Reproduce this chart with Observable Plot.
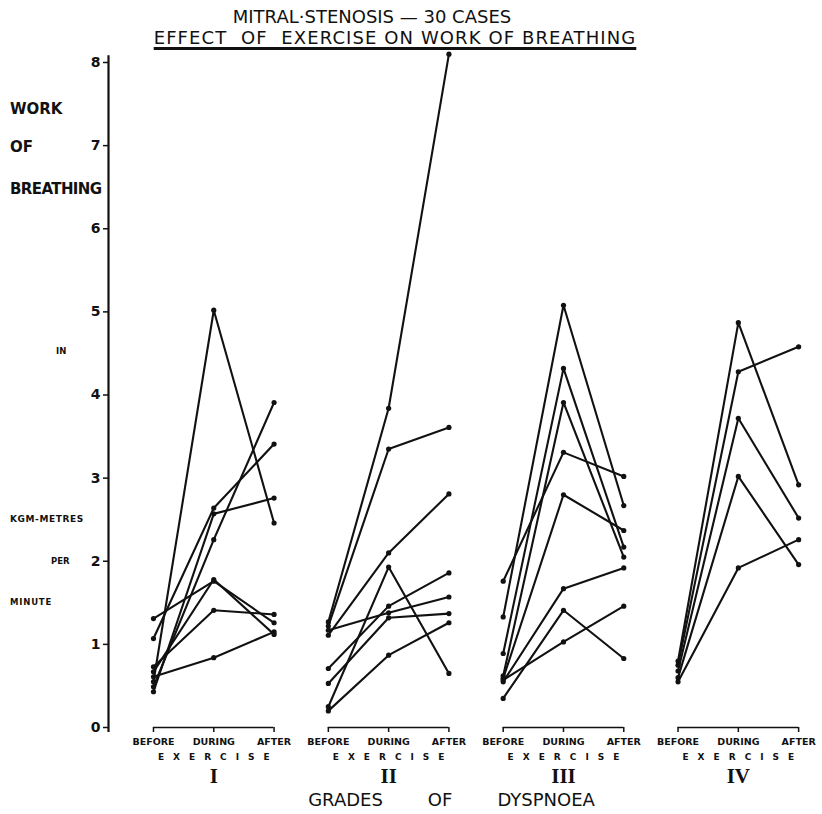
<!DOCTYPE html>
<html>
<head>
<meta charset="utf-8">
<script src="https://cdn.jsdelivr.net/npm/d3@7"></script>
<script src="https://cdn.jsdelivr.net/npm/@observablehq/plot@0.6"></script>
<style>
  body { margin: 0; background: #fff; }
  #wrap { position: relative; width: 822px; height: 814px; font-family: "DejaVu Sans", sans-serif; color: #111; background: #fff; }
  #t1, #t2 { position: absolute; left: 0; width: 822px; text-align: center; font-size: 18px; white-space: nowrap; z-index: 2; }
  #t1 { top: 6px; text-indent: -78px; }
  #t2 { top: 27px; text-indent: -32px; letter-spacing: 1.1px; }
  #t2 span { text-decoration: underline; text-decoration-thickness: 2.5px; text-underline-offset: 3px; }
  #chart { position: absolute; left: 0; top: 50px; z-index: 1; }
  .yl { position: absolute; font-weight: bold; white-space: nowrap; line-height: 1; z-index: 2; }
</style>
</head>
<body>
<div id="wrap">
  <div id="chart"></div>
  <div id="t1">MITRAL·STENOSIS — 30 CASES</div>
  <div id="t2"><span>EFFECT&nbsp; OF&nbsp; EXERCISE ON WORK OF BREATHING</span></div>
  <div class="yl" style="left:10px;top:102px;font-size:15px;">WORK</div>
  <div class="yl" style="left:10px;top:140px;font-size:15px;">OF</div>
  <div class="yl" style="left:10px;top:182px;font-size:15px;letter-spacing:-0.6px;">BREATHING</div>
  <div class="yl" style="left:56px;top:347px;font-size:8.5px;">IN</div>
  <div class="yl" style="left:10px;top:515px;font-size:9px;letter-spacing:0.6px;">KGM-METRES</div>
  <div class="yl" style="left:51px;top:557px;font-size:8.5px;">PER</div>
  <div class="yl" style="left:10px;top:598px;font-size:8.5px;letter-spacing:0.8px;">MINUTE</div>
</div>
<script>
// ---- data ----
const groups = ["I", "II", "III", "IV"];
const phases = ["BEFORE", "DURING", "AFTER"];
const yTicks = [0, 1, 2, 3, 4, 5, 6, 7, 8];

const beforeI = [0.55, 1.07, 0.43, 0.49, 1.31, 0.67, 0.73, 0.61];
const duringI = [5.02, 2.64, 2.57, 2.26, 1.76, 1.78, 1.41, 0.84];
const afterI  = [2.46, 3.41, 2.76, 3.91, 1.26, 1.12, 1.36, 1.15];

const beforeII = [1.27, 1.22, 1.11, 1.17, 0.71, 0.53, 0.25, 0.20];
const duringII = [3.84, 3.35, 2.10, 1.38, 1.46, 1.32, 1.93, 0.87];
const afterII  = [8.10, 3.61, 2.81, 1.57, 1.86, 1.37, 0.65, 1.26];

const beforeIII = [1.76, 1.33, 0.89, 0.62, 0.59, 0.55, 0.35, 0.57];
const duringIII = [3.31, 5.08, 4.32, 3.91, 2.80, 1.67, 1.41, 1.03];
const afterIII  = [3.02, 2.67, 2.17, 2.05, 2.37, 1.92, 0.83, 1.46];

const beforeIV = [0.80, 0.75, 0.68, 0.60, 0.55];
const duringIV = [4.87, 4.28, 3.72, 3.02, 1.92];
const afterIV  = [2.92, 4.58, 2.52, 1.96, 2.26];

// ---- build table ----
const series = {
  I: [beforeI, duringI, afterI],
  II: [beforeII, duringII, afterII],
  III: [beforeIII, duringIII, afterIII],
  IV: [beforeIV, duringIV, afterIV]
};
const GROUP_STEP = 2.9;
const xDomain = [-0.746, 10.93];
const pos = (gi, pi) => gi * GROUP_STEP + pi;

const rows = [];
groups.forEach((g, gi) => {
  const [b, d, a] = series[g];
  b.forEach((_, ci) => {
    [b[ci], d[ci], a[ci]].forEach((v, pi) => {
      rows.push({group: g, id: g + "-" + ci, phase: phases[pi], x: pos(gi, pi), value: v});
    });
  });
});
const phaseRows = [];
groups.forEach((g, gi) => phases.forEach((p, pi) => phaseRows.push({group: g, phase: p, x: pos(gi, pi)})));
const groupRows = groups.map((g, gi) => ({group: g, x1: pos(gi, 0), x2: pos(gi, 2), xm: pos(gi, 1)}));

const sp = "\u2002\u2002";
const exerciseLabel = "EXERCISE".split("").join(sp);

const chart = Plot.plot({
  width: 822,
  height: 764,
  marginLeft: 108,
  marginRight: 10,
  marginTop: 12,
  marginBottom: 87,
  style: {background: "transparent", color: "#111", fontFamily: "DejaVu Sans", overflow: "visible"},
  x: {domain: xDomain, axis: null},
  y: {domain: [0, 8], axis: null},
  marks: [
    Plot.ruleX([xDomain[0]], {y1: -0.06, y2: 8.08, stroke: "#111", strokeWidth: 2.2}),
    Plot.axisY(yTicks, {label: null, tickSize: 5, tickPadding: 3, fontSize: 14, fontWeight: "bold", stroke: "#111", strokeWidth: 1.5, tickFormat: d => String(d)}),
    Plot.ruleY(groupRows, {y: 0, x1: "x1", x2: "x2", stroke: "#111", strokeWidth: 1.5}),
    Plot.ruleX(phaseRows, {x: "x", y1: 0, y2: -0.06, stroke: "#111", strokeWidth: 1.5}),
    Plot.line(rows, {x: "x", y: "value", z: "id", stroke: "#111", strokeWidth: 2.1}),
    Plot.dot(rows, {x: "x", y: "value", r: 2.6, fill: "#111"}),
    Plot.text(phaseRows, {x: "x", y: 0, text: "phase", dy: 14, fontSize: 9.5, fontWeight: "bold", fill: "#111"}),
    Plot.text(groupRows, {x: "xm", y: 0, text: () => exerciseLabel, dy: 30, fontSize: 9, fontWeight: "bold", fill: "#111"}),
    Plot.text(groupRows, {x: "xm", y: 0, text: "group", dy: 49, fontSize: 21, fontWeight: "bold", fontFamily: "Liberation Serif", fill: "#111"}),
    Plot.text(["GRADES\u2003\u2003\u2002OF\u2003\u2003\u2002DYSPNOEA"], {frameAnchor: "bottom", dx: -9, dy: 78, fontSize: 18, fill: "#111"})
  ]
});
document.getElementById("chart").appendChild(chart);
</script>
</body>
</html>
